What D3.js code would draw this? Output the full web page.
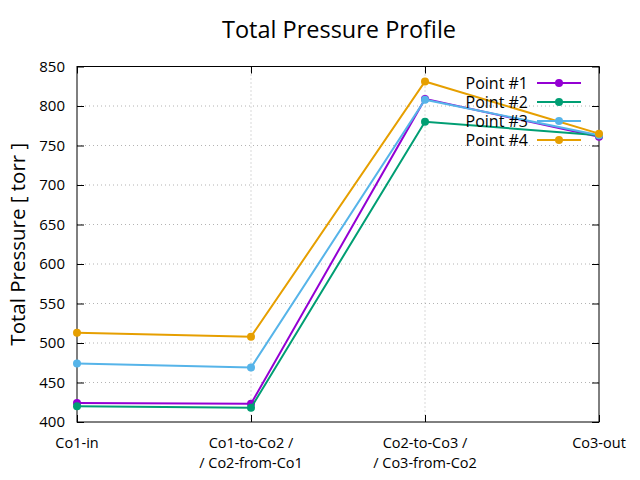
<!DOCTYPE html>
<html>
<head>
<meta charset="utf-8">
<script src="https://cdn.jsdelivr.net/npm/d3@7"></script>
<style>
  body { margin: 0; background: #fff; }
  svg text { font-family: "Open Sans", "DejaVu Sans", sans-serif; fill: #000; }
</style>
</head>
<body>
<div id="chart"></div>
<script>
// Data
const categories = ["Co1-in", "Co1-to-Co2 /\n/ Co2-from-Co1", "Co2-to-Co3 /\n/ Co3-from-Co2", "Co3-out"];
const seriesNames = ["Point #1", "Point #2", "Point #3", "Point #4"];
const point1 = [424, 423, 809, 761];
const point2 = [420, 418, 780, 763];
const point3 = [474, 469, 808, 763];
const point4 = [513, 508, 831, 765];
const yTicks = [400, 450, 500, 550, 600, 650, 700, 750, 800, 850];
const colors = ["#9400d3", "#009e73", "#56b4e9", "#e69f00"];

const series = [point1, point2, point3, point4];

const W = 640, H = 480;
const margin = { top: 66.5, right: 41, bottom: 58, left: 77 };
const width = W - margin.left - margin.right,
  height = H - margin.top - margin.bottom;

const svg = d3.select("#chart").append("svg")
  .attr("width", W).attr("height", H);

const g = svg.append("g")
  .attr("transform", "translate(" + margin.left + "," + margin.top + ")");

const x = d3.scalePoint().domain(d3.range(categories.length)).range([0, width]);
const y = d3.scaleLinear().domain([400, 850]).range([height, 0]);

// Grid
g.append("g").selectAll("line").data(yTicks.slice(1, -1)).enter().append("line")
  .attr("x1", 0).attr("x2", width)
  .attr("y1", d => y(d)).attr("y2", d => y(d))
  .attr("stroke", "#a0a0a0").attr("stroke-width", 0.8).attr("stroke-dasharray", "1,3");
g.append("g").selectAll("line").data(d3.range(1, categories.length - 1)).enter().append("line")
  .attr("y1", 0).attr("y2", height)
  .attr("x1", d => x(d)).attr("x2", d => x(d))
  .attr("stroke", "#a0a0a0").attr("stroke-width", 0.8).attr("stroke-dasharray", "1,3");

// Axes (gnuplot style: inward ticks, mirrored)
const yAxis = g.append("g").call(d3.axisLeft(y).tickValues(yTicks).tickSizeInner(-7).tickSizeOuter(0).tickPadding(12));
const yAxisR = g.append("g").attr("transform", "translate(" + width + ",0)")
  .call(d3.axisRight(y).tickValues(yTicks).tickSizeInner(-7).tickSizeOuter(0).tickFormat(""));
const xAxis = g.append("g").attr("transform", "translate(0," + height + ")")
  .call(d3.axisBottom(x).tickSizeInner(-7).tickSizeOuter(0).tickFormat(""));
const xAxisT = g.append("g")
  .call(d3.axisTop(x).tickSizeInner(-7).tickSizeOuter(0).tickFormat(""));
[yAxis, yAxisR, xAxis, xAxisT].forEach(a => {
  a.select(".domain").remove();
  a.selectAll("line").attr("stroke", "#000").attr("stroke-width", 1);
});
yAxis.selectAll("text").style("font-size", "15px").attr("fill", "#000");

g.append("rect").attr("width", width).attr("height", height)
  .attr("fill", "none").attr("stroke", "#000").attr("stroke-width", 1);

// X labels (two lines)
const xl = g.append("g").selectAll("text").data(categories).enter().append("text")
  .attr("text-anchor", "middle")
  .attr("transform", (d, i) => "translate(" + x(i) + "," + (height + 26) + ")")
  .style("font-size", "14.5px");
xl.each(function (d) {
  const lines = d.split("\n");
  d3.select(this).selectAll("tspan").data(lines).enter().append("tspan")
    .attr("x", 0).attr("dy", (l, j) => j === 0 ? 0 : 20).text(l => l);
});

// Lines & points
const line = d3.line().x((d, i) => x(i)).y(d => y(d));
series.forEach((s, k) => {
  g.append("path").datum(s).attr("d", line)
    .attr("fill", "none").attr("stroke", colors[k]).attr("stroke-width", 2);
  g.append("g").selectAll("circle").data(s).enter().append("circle")
    .attr("cx", (d, i) => x(i)).attr("cy", d => y(d)).attr("r", 4)
    .attr("fill", colors[k]);
});

// Legend
const leg = svg.append("g").selectAll("g").data(seriesNames).enter().append("g")
  .attr("transform", (d, i) => "translate(0," + (83 + i * 19) + ")");
leg.append("text").attr("x", 528).attr("dy", "0.35em").attr("text-anchor", "end")
  .style("font-size", "16px").text(d => d);
leg.append("line").attr("x1", 537).attr("x2", 581).attr("y1", 0).attr("y2", 0)
  .attr("stroke", (d, i) => colors[i]).attr("stroke-width", 2);
leg.append("circle").attr("cx", 559).attr("cy", 0).attr("r", 4)
  .attr("fill", (d, i) => colors[i]);

// Title and axis label
svg.append("text").attr("x", 339).attr("y", 38).attr("text-anchor", "middle")
  .style("font-size", "23.5px").text("Total Pressure Profile");
svg.append("text").attr("transform", "translate(25," + (margin.top + height / 2) + ") rotate(-90)")
  .attr("text-anchor", "middle").style("font-size", "20.5px").text("Total Pressure [ torr ]");
</script>
</body>
</html>
